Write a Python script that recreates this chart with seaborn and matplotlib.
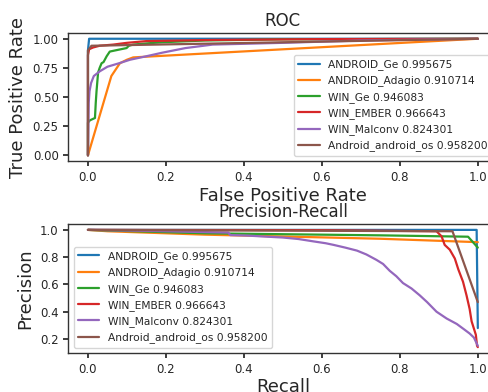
import numpy as np
import pandas as pd
import matplotlib
matplotlib.use("Agg")
import matplotlib.pyplot as plt
import seaborn as sns

names = ["ANDROID_Ge", "ANDROID_Adagio", "WIN_Ge", "WIN_EMBER", "WIN_Malconv", "Android_android_os"]
aucs = ["0.995675", "0.910714", "0.946083", "0.966643", "0.824301", "0.958200"]

# ROC curves (fpr, tpr)
roc_fpr = [
    [0.0, 0.0, 0.003, 1.0],
    [0.0, 0.06, 0.082, 0.1, 0.116, 1.0],
    [0.0, 0.0, 0.005, 0.018, 0.02, 0.022, 0.026, 0.03, 0.035, 0.04, 0.048, 0.056, 0.07, 0.099, 0.105, 0.116, 0.15, 0.19, 0.3, 0.5, 1.0],
    [0.0, 0.0, 0.003, 0.013, 0.03, 0.065, 0.1, 0.15, 0.32, 0.6, 1.0],
    [0.0, 0.002, 0.004, 0.008, 0.015, 0.03, 0.05, 0.08, 0.108, 0.15, 0.19, 0.25, 0.32, 0.5, 0.7, 1.0],
    [0.0, 0.0, 0.009, 1.0],
]
roc_tpr = [
    [0.0, 0.9, 1.0, 1.0],
    [0.0, 0.68, 0.79, 0.82, 0.84, 1.0],
    [0.0, 0.28, 0.30, 0.32, 0.45, 0.55, 0.71, 0.75, 0.79, 0.80, 0.85, 0.89, 0.90, 0.92, 0.94, 0.95, 0.96, 0.97, 0.985, 0.995, 1.0],
    [0.0, 0.86, 0.91, 0.925, 0.94, 0.95, 0.965, 0.98, 0.99, 0.997, 1.0],
    [0.0, 0.45, 0.55, 0.62, 0.68, 0.72, 0.76, 0.79, 0.82, 0.85, 0.88, 0.92, 0.95, 0.965, 0.985, 1.0],
    [0.0, 0.9, 0.94, 1.0],
]

# Precision-Recall curves (recall, precision)
pr_rec = [
    [0.0, 0.997, 1.0],
    [0.0, 0.05, 0.3, 0.75, 1.0],
    [0.0, 0.3, 0.75, 0.975, 1.0],
    [0.0, 0.6, 0.894, 0.907, 0.915, 0.928, 0.941, 0.95, 0.962, 0.971, 0.979, 0.984, 0.995, 0.998, 1.0],
    [0.0, 0.2, 0.36, 0.365, 0.41, 0.46, 0.5, 0.54, 0.58, 0.61, 0.63, 0.66, 0.69, 0.714, 0.74, 0.757, 0.774, 0.791, 0.808, 0.83, 0.851, 0.87, 0.894, 0.92, 0.946, 0.965, 0.979, 0.99, 1.0],
    [0.0, 0.935, 1.0],
]
pr_prec = [
    [1.0, 1.0, 0.28],
    [1.0, 0.99, 0.965, 0.935, 0.91],
    [1.0, 0.975, 0.96, 0.95, 0.87],
    [1.0, 0.998, 0.99, 0.953, 0.89, 0.855, 0.79, 0.71, 0.62, 0.52, 0.42, 0.33, 0.23, 0.15, 0.14],
    [1.0, 0.99, 0.98, 0.962, 0.958, 0.95, 0.944, 0.933, 0.915, 0.902, 0.89, 0.87, 0.848, 0.82, 0.78, 0.75, 0.70, 0.66, 0.61, 0.57, 0.52, 0.47, 0.40, 0.35, 0.31, 0.27, 0.24, 0.21, 0.15],
    [1.0, 0.99, 0.47],
]

labels = [f"{n} {a}" for n, a in zip(names, aucs)]

roc_df = pd.concat([pd.DataFrame({"x": fx, "y": ty, "model": lab})
                    for fx, ty, lab in zip(roc_fpr, roc_tpr, labels)], ignore_index=True)
pr_df = pd.concat([pd.DataFrame({"x": rx, "y": py, "model": lab})
                   for rx, py, lab in zip(pr_rec, pr_prec, labels)], ignore_index=True)

sns.set_theme(style="ticks", rc={"axes.edgecolor": ".2", "xtick.color": ".15", "ytick.color": ".15",
                                  "xtick.major.size": 3.5, "ytick.major.size": 3.5,
                                  "axes.linewidth": 1.0})
plt.rcParams["font.family"] = ["DejaVu Sans"]
pal = sns.color_palette("tab10", 6)

fig = plt.figure(figsize=(4.89, 3.92), dpi=100)
ax1 = fig.add_axes([0.140, 0.589, 0.877, 0.327])
ax2 = fig.add_axes([0.140, 0.0995, 0.877, 0.329])

sns.lineplot(data=roc_df, x="x", y="y", hue="model", palette=pal, estimator=None, sort=False,
             units="model", linewidth=1.6, ax=ax1)
ax1.set_title("ROC", fontsize=12, pad=5)
ax1.set_xlabel("False Positive Rate", fontsize=13, labelpad=2)
ax1.set_ylabel("True Positive Rate", fontsize=13)
ax1.tick_params(labelsize=8.5)
ax1.legend(loc="lower right", fontsize=7.7)

sns.lineplot(data=pr_df, x="x", y="y", hue="model", palette=pal, estimator=None, sort=False,
             units="model", linewidth=1.6, ax=ax2)
ax2.set_title("Precision-Recall", fontsize=12, pad=5)
ax2.set_xlabel("Recall", fontsize=13, labelpad=2)
ax2.set_ylabel("Precision", fontsize=13)
ax2.tick_params(labelsize=8.5)
ax2.legend(loc="lower left", fontsize=7.7)

fig.savefig("out.png", dpi=100)
